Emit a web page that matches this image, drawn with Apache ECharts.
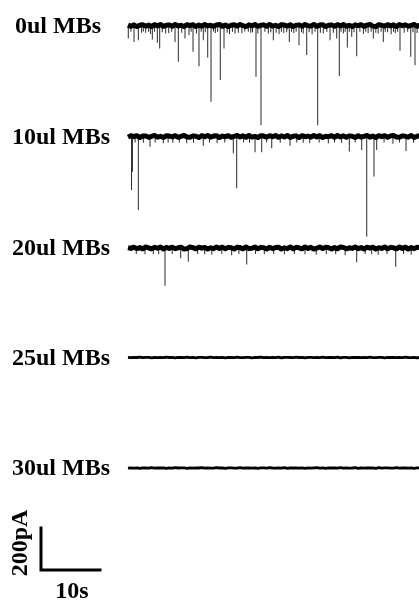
<!DOCTYPE html>
<html>
<head>
<meta charset="utf-8">
<script src="https://cdn.jsdelivr.net/npm/echarts@6/dist/echarts.min.js"></script>
<style>
html,body{margin:0;padding:0;background:#fff;}
#c{width:419px;height:601px;}
</style>
</head>
<body>
<div id="c"></div>
<script>
// ---- data ----
const traceLabels = ['0ul MBs', '10ul MBs', '20ul MBs', '25ul MBs', '30ul MBs'];
const sampleStep = 0.5; // s between baseline noise samples

// baseline noise (pA), read approximately from the band thickness
const noiseActiveA = [2,-4,3,-5,1,4,-3,2,-5,4, -2,5,-4,1,3,-4,5,-2,1,-5, 4,-1,4,-5,2,-3,5,-2,1,-4,
  3,5,-4,2,-5,1,4,-3,5,-1, -5,3,-2,5,-4,1,3,-4,5,-3, 1,-5,4,2,-3,4,-5,1,3,-4,
  5,-1,-3,5,-4,2,4,-5,1,3, -4,4,-2,5,-3,1,-5,3,-1,4, -4,2,5,-3,-5,4,1,-3,4,-2,
  3,-5,5,-1,3,-4,1,5,-4,2, -3,4,-2,1];
const noiseActiveB = [-3,4,-1,4,-5,2,3,-4,1,5, -3,1,-5,4,2,-2,4,-4,1,5, -2,-4,3,1,-5,4,-1,5,-3,2,
  4,-5,2,-1,4,-4,1,5,-2,3, -4,5,-3,1,-5,4,2,-3,4,-1, 5,-4,3,-2,5,-4,1,3,-5,4,
  -1,2,-3,5,-2,4,-5,1,-1,4, -4,5,-2,3,-4,3,1,-5,4,-3, 1,5,-3,2,-5,4,-1,4,-4,3,
  5,-2,-4,3,1,-3,5,-5,1,4, -3,2,-4,3];
const noiseQuietA = [1,-1,1,0,2,-1,1,1,-2,1, -1,1,-1,2,0,1,-2,1,0,-1, 2,-1,1,-2,1,1,-1,0,2,-1,
  1,-1,1,-2,1,0,-1,2,-1,-1, 1,1,-2,1,0,2,-1,1,-1,1, -1,2,-2,1,1,0,-1,2,0,1,
  -2,1,1,-1,1,-1,2,-1,0,1, -1,2,-2,1,1,-2,1,0,1,-1, 1,-1,2,-1,-1,1,1,-2,1,0,
  1,-1,1,-1,2,0,-1,1,-2,1, 0,1,-1,1];
const noiseQuietB = [-1,1,-1,1,-2,1,0,-1,2,-1, 1,0,1,-2,1,-1,2,0,1,1, -2,1,-1,1,0,2,-1,1,-1,-1,
  2,0,1,-2,1,1,-1,-1,2,-1, 1,0,-1,1,-2,1,1,-1,2,0, -1,1,-1,2,-2,1,0,1,-1,1,
  -2,1,-1,1,2,-1,1,-2,1,0, 1,-1,2,-1,1,-1,0,2,-2,1, -1,1,0,1,-2,2,-1,1,1,-1,
  -1,2,-1,0,1,-1,1,-2,1,1, -1,1,0,1];

// events [time s, amplitude pA] (inward currents, drawn downward)
const events0 = [[0.05,62],[0.5,30],[1.02,78],[1.75,70],[2.3,34],[2.6,28],[3.0,35],[3.5,30],[3.8,40],[4.12,67],[4.5,30],[4.97,82],[5.37,110],[5.8,32],[6.39,38],[6.9,36],[7.4,30],[7.97,78],[8.53,173],[9.1,34],[9.66,62],[10.34,46],[10.7,30],[11.02,125],[11.6,38],[12.03,194],[12.4,30],[12.76,70],[13.1,32],[13.51,152],[14.07,363],[14.5,28],[14.8,36],[15.2,30],[15.64,260],[16.27,110],[16.8,34],[17.2,40],[17.7,30],[18.14,38],[18.7,34],[19.3,36],[19.8,28],[20.39,30],[20.8,34],[21.1,32],[21.69,244],[22.0,38],[22.54,475],[23.2,30],[23.78,38],[24.2,32],[24.63,70],[25.1,34],[25.6,40],[26.0,30],[26.4,36],[26.9,32],[27.34,78],[27.7,30],[28.1,36],[28.5,30],[28.98,94],[29.4,32],[29.7,38],[30.29,141],[30.7,32],[31.2,42],[31.7,30],[32.15,475],[32.6,34],[33.1,38],[33.7,30],[34.24,70],[34.8,34],[35.37,62],[35.81,241],[36.1,30],[36.5,38],[36.8,30],[37.17,105],[37.5,30],[37.92,54],[38.3,32],[38.76,146],[39.3,30],[39.9,40],[40.3,30],[40.7,36],[41.2,30],[41.58,62],[42.0,34],[42.4,38],[42.9,30],[43.27,78],[43.6,30],[44.0,32],[44.6,42],[45.0,30],[45.3,36],[45.7,30],[46.1,120],[46.8,34],[47.4,30],[47.92,149],[48.3,32],[48.64,189],[49.0,36]];
const events1 = [[0.6,255],[0.75,168],[1.2,28],[1.75,350],[2.6,30],[3.73,49],[4.6,28],[5.98,32],[6.8,28],[7.6,30],[8.7,28],[9.95,32],[11.1,30],[12.76,44],[13.8,28],[15.1,32],[16.4,28],[17.85,80],[18.42,247],[19.6,28],[20.6,30],[21.53,75],[22.66,75],[23.5,28],[24.36,56],[25.8,30],[27.46,44],[28.6,28],[29.7,30],[30.8,32],[32.4,28],[33.95,32],[35.0,28],[36.2,30],[37.51,72],[38.5,28],[39.61,64],[40.46,477],[41.69,191],[42.15,64],[43.4,28],[44.9,34],[46.0,28],[47.12,69],[48.4,30]];
const events2 = [[1.4,28],[2.88,30],[4.3,28],[5.2,30],[6.27,180],[7.5,28],[8.93,49],[10.22,65],[11.8,28],[13.0,30],[14.2,32],[15.9,28],[17.57,34],[18.8,28],[20.12,78],[21.6,28],[23.1,30],[24.7,28],[26.5,30],[28.2,28],[30.0,30],[31.9,32],[33.6,28],[35.2,30],[36.8,34],[38.76,68],[40.2,28],[41.3,30],[42.4,32],[43.9,28],[45.37,89],[46.7,28],[48.0,32]];
const events3 = [];
const events4 = [];

const traceNoise = [noiseActiveA, noiseActiveB, noiseActiveA.slice().reverse(), noiseQuietA, noiseQuietB];
const traceEvents = [events0, events1, events2, events3, events4];

// scale bar: 10 s horizontal, 200 pA vertical
const scaleBarX = [0, 0, 10];
const scaleBarY = [200, 0, 0];
const scaleTimeLabel = '10s';
const scaleCurrentLabel = '200pA';

// ---- layout ----
const baselines = [25.5, 136.5, 248, 357.5, 468];
const labelTops = [15, 126, 237, 347, 457];
const labelLefts = [15, 12, 12, 12, 12];
const xMin = 0, xMax = 49.2;
const plotLeft = 128, plotWidth = 290.3;  // 10 s = 59 px
const yMin = -500, yMax = 100;            // 200 pA = 42 px
const plotHeight = 126;
const topPad = 21;
const bandWidths = [5, 5, 5, 2.8, 2.8];
const labelFont = 'bold 24px "Liberation Serif", "Times New Roman", serif';

const grids = [], xAxes = [], yAxes = [], series = [], graphics = [];

traceLabels.forEach((lab, i) => {
  grids.push({left: plotLeft, width: plotWidth, top: baselines[i] - topPad, height: plotHeight});
  xAxes.push({type: 'value', gridIndex: i, min: xMin, max: xMax, show: false});
  yAxes.push({type: 'value', gridIndex: i, min: yMin, max: yMax, show: false});
  series.push({
    type: 'bar', xAxisIndex: i, yAxisIndex: i, barWidth: 1,
    data: traceEvents[i].map(e => [e[0], -e[1]]),
    itemStyle: {color: '#2a2a2a'}, silent: true
  });
  series.push({
    type: 'line', xAxisIndex: i, yAxisIndex: i, showSymbol: false, symbol: 'none',
    data: traceNoise[i].map((v, k) => [k * sampleStep, v]),
    lineStyle: {color: '#000', width: bandWidths[i], join: 'round'},
    silent: true, z: 3
  });
  graphics.push({
    type: 'text', left: labelLefts[i], top: labelTops[i],
    style: {text: lab, font: labelFont, fill: '#000'}
  });
});

// scale bar grid
const sb = traceLabels.length;
grids.push({left: 41, width: plotWidth, top: 528, height: 42});
xAxes.push({type: 'value', gridIndex: sb, min: xMin, max: xMax, show: false});
yAxes.push({type: 'value', gridIndex: sb, min: 0, max: 200, show: false});
series.push({
  type: 'line', xAxisIndex: sb, yAxisIndex: sb, showSymbol: false, symbol: 'none', clip: false,
  data: scaleBarX.map((x, k) => [x, scaleBarY[k]]),
  lineStyle: {color: '#000', width: 3, join: 'miter', cap: 'square'}, silent: true
});
graphics.push({
  type: 'text', x: 21, y: 543, rotation: Math.PI / 2,
  style: {text: scaleCurrentLabel, font: labelFont, fill: '#000', align: 'center', verticalAlign: 'middle'}
});
graphics.push({
  type: 'text', x: 72, y: 592,
  style: {text: scaleTimeLabel, font: labelFont, fill: '#000', align: 'center', verticalAlign: 'middle'}
});

const chart = echarts.init(document.getElementById('c'), null, {renderer: 'canvas'});
chart.setOption({
  animation: false,
  backgroundColor: '#fff',
  grid: grids, xAxis: xAxes, yAxis: yAxes, series: series,
  graphic: graphics
});
</script>
</body>
</html>
